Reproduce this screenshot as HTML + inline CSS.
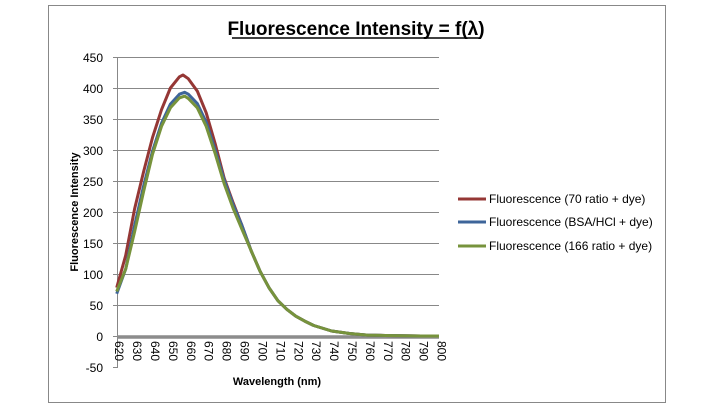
<!DOCTYPE html>
<html><head><meta charset="utf-8"><style>
body{margin:0;background:#fff;width:714px;height:408px;overflow:hidden}
text{font-family:"Liberation Sans","DejaVu Sans",sans-serif}
</style></head><body>
<svg width="714" height="408" xmlns="http://www.w3.org/2000/svg">
<rect x="48.5" y="5.5" width="617" height="397" fill="#fff" stroke="#888" stroke-width="1"/>
<text x="356" y="35" font-size="19" font-weight="bold" text-anchor="middle">Fluorescence Intensity = f(λ)</text>
<line x1="232" y1="38" x2="480" y2="38" stroke="#000" stroke-width="1.5"/>
<g stroke="#888" stroke-width="1">
<line x1="113" y1="57.5" x2="439" y2="57.5"/><line x1="113" y1="88.5" x2="439" y2="88.5"/>
<line x1="113" y1="119.5" x2="439" y2="119.5"/><line x1="113" y1="150.5" x2="439" y2="150.5"/>
<line x1="113" y1="181.5" x2="439" y2="181.5"/><line x1="113" y1="212.5" x2="439" y2="212.5"/>
<line x1="113" y1="243.5" x2="439" y2="243.5"/><line x1="113" y1="274.5" x2="439" y2="274.5"/>
<line x1="113" y1="305.5" x2="439" y2="305.5"/><line x1="113" y1="336.5" x2="439" y2="336.5"/>
<line x1="113" y1="367.5" x2="117" y2="367.5"/>
<line x1="117.5" y1="57" x2="117.5" y2="368"/>
</g>
<line x1="117" y1="337" x2="439" y2="337" stroke="#8c8c8c" stroke-width="3.5"/>
<g font-size="12" text-anchor="end">
<text x="103" y="62">450</text><text x="103" y="93">400</text><text x="103" y="124">350</text>
<text x="103" y="155">300</text><text x="103" y="186">250</text><text x="103" y="217">200</text>
<text x="103" y="248">150</text><text x="103" y="279">100</text><text x="103" y="310">50</text>
<text x="103" y="341">0</text><text x="103" y="372">-50</text>
</g>
<g font-size="12" id="xt"></g>
<text transform="translate(78,212) rotate(-90)" font-size="11" font-weight="bold" text-anchor="middle">Fluorescence Intensity</text>
<text x="277" y="385" font-size="11" font-weight="bold" text-anchor="middle">Wavelength (nm)</text>
<g id="series" fill="none" stroke-width="3" stroke-linejoin="round"></g>
<line x1="458" y1="199" x2="486" y2="199" stroke="#953735" stroke-width="3"/>
<line x1="458" y1="222" x2="486" y2="222" stroke="#3e659a" stroke-width="3"/>
<line x1="458" y1="246" x2="486" y2="246" stroke="#77933c" stroke-width="3"/>
<g font-size="12"><text x="489" y="203">Fluorescence (70 ratio + dye)</text>
<text x="489" y="226">Fluorescence (BSA/HCl + dye)</text>
<text x="489" y="250">Fluorescence (166 ratio + dye)</text></g>
</svg>
<script>
var NS="http://www.w3.org/2000/svg";
function X(w){return 116.7+(w-620)*322.3/180}
function Y(v){return 336-v*0.62}
var xt=document.getElementById("xt");
for(var w=620;w<=800;w+=10){var t=document.createElementNS(NS,"text");t.setAttribute("transform","translate("+(X(w)-1.5)+",341) rotate(90)");t.textContent=w;xt.appendChild(t);}
var tail=[[690,178],[695,138],[700,105],[705,78],[710,57],[715,43],[720,32],[725,24],[730,17],[740,8],[750,4],[760,1.5],[770,0.8],[780,0.3],[790,0],[800,0]];
var red=[[620,78],[625,130],[630,205],[635,265],[640,320],[645,365],[650,400],[655,418],[657,421],[660,415],[665,395],[670,360],[675,310],[680,255],[685,215]].concat(tail);
var blue=[[620,68],[625,108],[630,178],[635,242],[640,298],[645,343],[650,374],[655,390],[658,393],[660,390],[665,375],[670,345],[675,300],[680,252],[685,212]].concat(tail);
var green=[[620,72],[625,108],[630,168],[635,233],[640,293],[645,338],[650,368],[655,384],[658,387],[660,383],[665,368],[670,338],[675,294],[680,246],[685,206],[690,172]].concat(tail.slice(1));
var g=document.getElementById("series");
[[red,"#953735"],[blue,"#3e659a"],[green,"#77933c"]].forEach(function(s){var p=document.createElementNS(NS,"polyline");p.setAttribute("points",s[0].map(function(a){return X(a[0]).toFixed(1)+","+Y(a[1]).toFixed(1)}).join(" "));p.setAttribute("stroke",s[1]);g.appendChild(p);});
</script>
</body></html>
